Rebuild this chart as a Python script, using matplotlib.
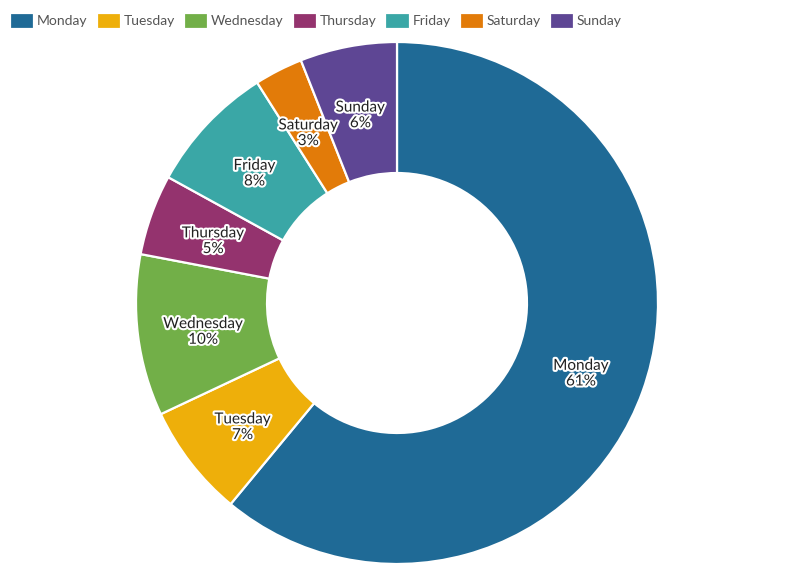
import matplotlib
matplotlib.use('Agg')
import matplotlib.pyplot as plt
import matplotlib.patheffects as pe
from matplotlib.patches import Patch
import numpy as np

plt.rcParams['font.family'] = ['Lato', 'DejaVu Sans']

days = ['Monday', 'Tuesday', 'Wednesday', 'Thursday', 'Friday', 'Saturday', 'Sunday']
shares = [61, 7, 10, 5, 8, 3, 6]
colors = ['#1f6a96', '#eeaf0a', '#72af48', '#94336e', '#3aa7a6', '#e27b09', '#5e4694']

fig = plt.figure(figsize=(7.94, 5.75), dpi=100)
ax = fig.add_axes([0, 0, 1, 1])

wedges, _ = ax.pie(shares, colors=colors, startangle=90, counterclock=False,
                   radius=1.0, wedgeprops=dict(width=0.502, edgecolor='white', linewidth=1.6))

# labels at the middle of the ring
r_mid = 1.0 - 0.502 / 2
total = sum(shares)
start = 90.0
for day, val in zip(days, shares):
    ang = np.deg2rad(start - val / total * 360 / 2)
    start -= val / total * 360
    ax.text(r_mid * np.cos(ang), r_mid * np.sin(ang) - 0.017, f'{day}\n{val}%',
            ha='center', va='center', fontsize=11, color='#222222', linespacing=1.15,
            path_effects=[pe.withStroke(linewidth=3, foreground='white')])

ax.set_xlim(-397 / 261, 397 / 261)
ax.set_ylim(-272 / 261, 303 / 261)
ax.set_aspect('auto')
ax.axis('off')

handles = [Patch(facecolor=c, edgecolor=c, linewidth=2, joinstyle='round') for c in colors]
fig.legend(handles, days, loc='upper left', bbox_to_anchor=(0.008, 0.983), ncol=7,
           frameon=False, fontsize=10, labelcolor='#555555', handlelength=1.4,
           handleheight=0.8, handletextpad=0.4, columnspacing=0.8, borderaxespad=0)

fig.savefig('out.png', dpi=100)
